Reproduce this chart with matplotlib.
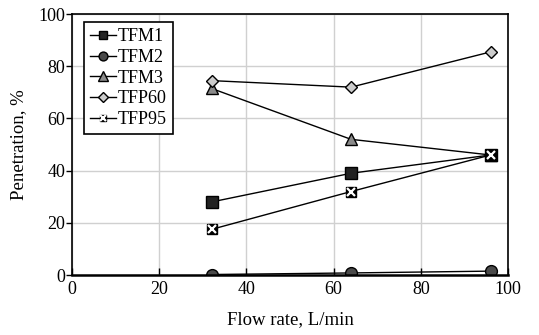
import matplotlib
matplotlib.use("Agg")
import matplotlib.pyplot as plt

plt.rcParams['font.family'] = ['Liberation Serif', 'DejaVu Serif']

flow = [32, 64, 96]
tfm1 = [28, 39, 46]
tfm2 = [0.2, 0.8, 1.5]
tfm3 = [71.5, 52, 46]
tfp60 = [74.5, 72, 85.5]
tfp95 = [17.5, 32, 46]

fig = plt.figure(figsize=(5.39, 3.35), dpi=100)
ax = fig.add_axes([0.1336, 0.179, 0.8089, 0.779])

lw = 1.0
h1, = ax.plot(flow, tfm1, '-s', color='black', lw=lw, ms=8, mfc='#222222', mec='black', label='TFM1')
h2, = ax.plot(flow, tfm2, '-o', color='black', lw=lw, ms=8.5, mfc='#4a4a4a', mec='black', label='TFM2')
h3, = ax.plot(flow, tfm3, '-^', color='black', lw=lw, ms=9, mfc='#8a8a8a', mec='black', label='TFM3')
h4, = ax.plot(flow, tfp60, '-D', color='black', lw=lw, ms=6.5, mfc='#cccccc', mec='black', label='TFP60')
h5a, = ax.plot(flow, tfp95, '-s', color='black', lw=lw, ms=6.5, mfc='black', mec='black')
h5b, = ax.plot(flow, tfp95, 'x', color='white', ms=5.5, mew=1.6, zorder=3)

ax.set_xlim(0, 100)
ax.set_ylim(0, 100)
ax.set_xticks([0, 20, 40, 60, 80, 100])
ax.set_yticks([0, 20, 40, 60, 80, 100])
ax.grid(True, color='#d0d0d0', lw=1.0)
ax.set_axisbelow(True)
ax.tick_params(axis='x', direction='in', length=5, width=1, labelsize=13, pad=4)
ax.tick_params(axis='y', direction='out', length=4, width=1, labelsize=13, pad=1)
for s in ax.spines.values():
    s.set_linewidth(1.2)
ax.spines['bottom'].set_linewidth(1.8)

ax.set_xlabel('Flow rate, L/min', fontsize=13.5, labelpad=10)
ax.set_ylabel('Penetration, %', fontsize=13.5, labelpad=8)

leg = ax.legend([h1, h2, h3, h4, (h5a, h5b)], ['TFM1', 'TFM2', 'TFM3', 'TFP60', 'TFP95'],
                loc='upper left', bbox_to_anchor=(0.0275, 0.969), fontsize=13,
                handlelength=1.4, handletextpad=0.1, borderpad=0.35, labelspacing=0.2,
                fancybox=False, edgecolor='black', framealpha=1, markerscale=0.75,
                borderaxespad=0)
leg.get_frame().set_linewidth(1.2)

fig.savefig('out.png', dpi=100)
